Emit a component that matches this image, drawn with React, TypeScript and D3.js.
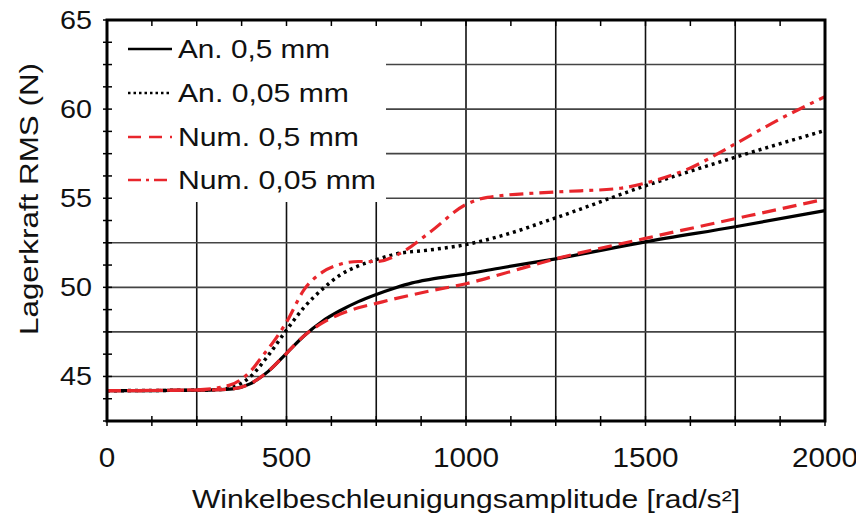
import React from "react";
import * as d3 from "d3";

// x values (rad/s²) and y values (N)
const xAn05 = [0, 100, 200, 300, 350, 400, 450, 500, 550, 600, 650, 700, 750, 800, 850, 900, 1000, 1100, 1250, 1500, 1750, 2000];
const yAn05 = [44.2, 44.2, 44.22, 44.25, 44.3, 44.6, 45.3, 46.3, 47.3, 48.1, 48.7, 49.2, 49.6, 49.95, 50.25, 50.45, 50.75, 51.1, 51.6, 52.55, 53.4, 54.3];

const xAn005 = [0, 300, 350, 400, 450, 500, 550, 600, 650, 700, 750, 800, 900, 1000, 1100, 1250, 1500, 1750, 2000];
const yAn005 = [44.2, 44.25, 44.4, 45.0, 46.2, 47.6, 48.9, 49.9, 50.7, 51.2, 51.55, 51.85, 52.1, 52.4, 52.9, 53.9, 55.7, 57.3, 58.8];

const xNum05 = [0, 300, 350, 400, 450, 500, 550, 600, 650, 700, 750, 800, 900, 1000, 1100, 1250, 1500, 1750, 2000];
const yNum05 = [44.2, 44.25, 44.3, 44.6, 45.3, 46.3, 47.3, 48.0, 48.5, 48.85, 49.1, 49.35, 49.8, 50.2, 50.75, 51.6, 52.75, 53.85, 54.95];

const xNum005 = [0, 250, 340, 400, 435, 462, 500, 550, 600, 650, 700, 750, 825, 900, 1000, 1060, 1250, 1430, 1500, 1625, 1750, 1875, 2000];
const yNum005 = [44.2, 44.25, 44.5, 45.3, 46.2, 46.9, 48.05, 49.9, 50.85, 51.3, 51.45, 51.45, 52.0, 53.1, 54.65, 55.05, 55.35, 55.56, 55.85, 56.7, 58.05, 59.45, 60.7];

const seriesNames = ["An. 0,5 mm", "An. 0,05 mm", "Num. 0,5 mm", "Num. 0,05 mm"];
const xTicks = [0, 500, 1000, 1500, 2000];
const yTicks = [45, 50, 55, 60, 65];

const RED = "#e8262c";
const FONT = "'Liberation Sans', Arial, sans-serif";

const W = 856, H = 517;
const left = 107, right = 825, top = 20, bottom = 421;

export default function App() {
  const x = d3.scaleLinear().domain([0, 2000]).range([left, right]);
  const y = d3.scaleLinear().domain([42.5, 65]).range([bottom, top]);

  const series = [
    { xs: xAn05, ys: yAn05, color: "#000", dash: "", width: 3.2, legendDash: "", legendWidth: 2.5 },
    { xs: xAn005, ys: yAn005, color: "#000", dash: "3 4", width: 3.5, legendDash: "2.5 3", legendWidth: 2.5 },
    { xs: xNum05, ys: yNum05, color: RED, dash: "14 7", width: 3.2, legendDash: "13 8", legendWidth: 2.5 },
    { xs: xNum005, ys: yNum005, color: RED, dash: "14 6 4 6", width: 3.2, legendDash: "13 5 3 5", legendWidth: 2.5 },
  ];

  const line = d3
    .line<[number, number]>()
    .x(d => x(d[0]))
    .y(d => y(d[1]))
    .curve(d3.curveMonotoneX);

  const vGrid = d3.range(250, 2000, 250);
  const hGrid = d3.range(45, 65, 2.5);
  const xMinor = d3.range(0, 2001, 125);
  const yMinor = d3.range(42.5, 65.01, 1.25);

  // legend box
  const lg = { x0: left, y0: top, x1: 386, y1: 202 };
  const rowY = [49, 93, 137, 180];

  return (
    <svg width={W} height={H} style={{ position: "absolute", left: 0, top: 0, background: "#fff" }}>
      <rect width={W} height={H} fill="#fff" />
      <g>
        {vGrid.map(v => (
          <line key={"v" + v} x1={x(v)} x2={x(v)} y1={top} y2={bottom} stroke="#111" strokeWidth={1.6} />
        ))}
        {hGrid.map(v => (
          <line key={"h" + v} x1={left} x2={right} y1={y(v)} y2={y(v)} stroke="#444" strokeWidth={1.6} />
        ))}
      </g>
      <rect x={lg.x0} y={lg.y0} width={lg.x1 - lg.x0} height={lg.y1 - lg.y0} fill="#fff" />
      {/* minor ticks */}
      {xMinor.map(v => (
        <line key={"xt" + v} x1={x(v)} x2={x(v)} y1={bottom - 5} y2={bottom + 5} stroke="#000" strokeWidth={1.5} />
      ))}
      {xMinor.map(v => (
        <line key={"xtt" + v} x1={x(v)} x2={x(v)} y1={top} y2={top + 6} stroke="#000" strokeWidth={1.5} />
      ))}
      {yMinor.map(v => (
        <line key={"yt" + v} x1={left - 4} x2={left + 5} y1={y(v)} y2={y(v)} stroke="#000" strokeWidth={1.5} />
      ))}
      {/* curves */}
      {series.map((s, i) => (
        <path
          key={"s" + i}
          d={line(s.xs.map((v, j) => [v, s.ys[j]] as [number, number])) || ""}
          fill="none"
          stroke={s.color}
          strokeWidth={s.width}
          strokeDasharray={s.dash || undefined}
          strokeLinecap="butt"
        />
      ))}
      {/* frame */}
      <rect x={left} y={top} width={right - left} height={bottom - top} fill="none" stroke="#000" strokeWidth={3} />
      {/* legend */}
      {series.map((s, i) => (
        <g key={"l" + i}>
          <line x1={128} x2={172} y1={rowY[i]} y2={rowY[i]} stroke={s.color} strokeWidth={s.legendWidth}
            strokeDasharray={s.legendDash || undefined} />
          <text x={178} y={rowY[i] + 9} fontFamily={FONT} fontSize={26} fill="#111"
            textLength={i === 0 ? 152 : i === 1 ? 171 : i === 2 ? 181 : 198} lengthAdjust="spacingAndGlyphs">
            {seriesNames[i]}
          </text>
        </g>
      ))}
      {/* tick labels */}
      {yTicks.map(v => (
        <text key={"yl" + v} x={92} y={y(v) + 9} textAnchor="end" fontFamily={FONT} fontSize={26} fill="#111"
          textLength={32} lengthAdjust="spacingAndGlyphs">
          {v}
        </text>
      ))}
      {xTicks.map(v => (
        <text key={"xl" + v} x={x(v)} y={467} textAnchor="middle" fontFamily={FONT} fontSize={27} fill="#111"
          textLength={String(v).length * 16.5} lengthAdjust="spacingAndGlyphs">
          {v}
        </text>
      ))}
      <text x={466} y={508} textAnchor="middle" fontFamily={FONT} fontSize={26} fill="#111"
        textLength={548} lengthAdjust="spacingAndGlyphs">
        Winkelbeschleunigungsamplitude [rad/s²]
      </text>
      <text transform="translate(38,199) rotate(-90)" textAnchor="middle" fontFamily={FONT} fontSize={26} fill="#111"
        textLength={272} lengthAdjust="spacingAndGlyphs">
        Lagerkraft RMS (N)
      </text>
    </svg>
  );
}
